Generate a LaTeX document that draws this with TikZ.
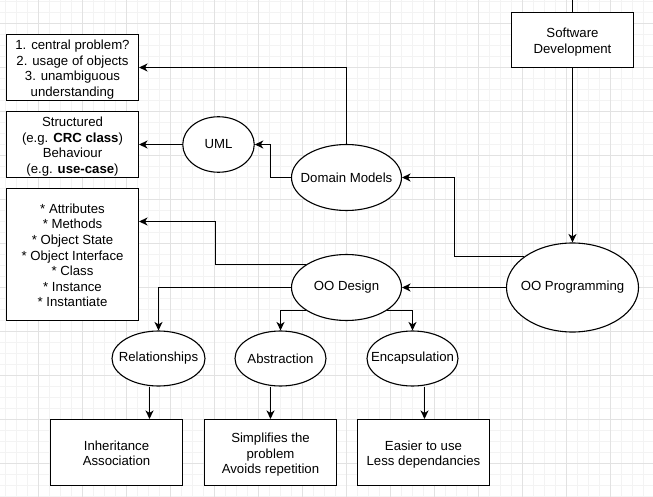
\documentclass[tikz,border=0pt]{standalone}
\usepackage{fontspec}
\setmainfont{Liberation Sans}
\usetikzlibrary{arrows.meta,shapes.geometric}
\newcommand{\zw}[1]{\makebox[0pt]{#1}}
% invisible struts: a tall first line and a fixed depth on the last line
\newcommand{\bt}{\vrule width 0pt height 14pt\relax}
\newcommand{\bb}{\vrule width 0pt depth 2.8pt\relax}
\definecolor{gridminor}{HTML}{F3F3F3}
\definecolor{gridmajor}{HTML}{E2E2E2}
\begin{document}
\begin{tikzpicture}[x=1pt,y=-1pt,
  every node/.style={font=\fontsize{13.2}{15.6}\selectfont, line width=1.1pt, inner sep=0pt,
    align=center, fill=white},
  box/.style={draw, rectangle, minimum width=132, minimum height=66},
  oval/.style={draw, ellipse},
  arr/.style={line width=1.1pt, -{Stealth[length=8.5pt,width=8pt,inset=2.5pt]}},
  link/.style={line width=1.1pt},
  minorline/.style={gridminor, line width=1pt},
  majorline/.style={gridmajor, line width=1pt}]
\useasboundingbox (0,0) rectangle (653,497);
\fill[white] (0,0) rectangle (653,497);

% background grid
\foreach \i in {0,...,59} {\draw[minorline] ({5.5+11*\i},0) -- ({5.5+11*\i},497);}
\foreach \j in {0,...,45} {\draw[minorline] (0,{1.5+11*\j}) -- (653,{1.5+11*\j});}
\foreach \i in {0,...,13} {\draw[majorline] ({38.5+44*\i},0) -- ({38.5+44*\i},497);}
\foreach \j in {0,...,10} {\draw[majorline] (0,{23.5+44*\j}) -- (653,{23.5+44*\j});}

% nodes
\node[box, minimum width=122, minimum height=55] (sd) at (572.5,40) {\bt Software\\Development\bb};
\node[oval, minimum width=132, minimum height=89] (oop) at (572.5,287.5) {\zw{OO Programming}};
\node[oval, minimum width=110, minimum height=66] (dm) at (346.5,177.5) {\zw{Domain Models}};
\node[oval, minimum width=110, minimum height=66] (ood) at (346.5,287.5) {\zw{OO Design}};
\node[oval, minimum width=71.5, minimum height=55.5] (uml) at (218.5,144.5) {\zw{UML}};

\node[box] (b1) at (72.5,67.5)
  {\bt 1. central problem?\\2. usage of objects\\3. unambiguous\\understanding\bb};
\node[box] (b2) at (72.5,144.5)
  {\bt Structured\\(e.g. \textbf{CRC class})\\Behaviour\\(e.g. \textbf{use-case})\bb};
\node[box, minimum height=132] (b3) at (72.5,254.5)
  {\bt * Attributes\\* Methods\\* Object State\\* Object Interface\\* Class\\* Instance\\* Instantiate\bb};

\node[oval, minimum width=93, minimum height=55] (rel) at (158.5,358.5) {\zw{Relationships}};
\node[oval, minimum width=91, minimum height=55] (abs) at (280.5,358.5) {\zw{Abstraction}};
\node[oval, minimum width=91, minimum height=55] (enc) at (412.5,358.5) {\zw{Encapsulation}};

\node[box] (b4) at (116.5,452.5) {\bt Inheritance\\Association\bb};
\node[box] (b5) at (270.5,452.5) {\bt Simplifies the\\problem\\Avoids repetition\bb};
\node[box] (b6) at (423.5,452.5) {\bt Easier to use\\Less dependancies\bb};

\coordinate (top) at (572.5,0);

% connectors
\draw[link] (sd.north) -- (top);
\draw[arr] (sd.south) -- (oop.north);
\draw[arr] (oop.west) -- (ood.east);
\draw[arr] (oop.147.3) -| (454.5,177.5) -- (dm.east);
\draw[arr] (dm.north) |- (b1.east);
\draw[arr] (dm.west) -| (270.5,144.5) -- (uml.east);
\draw[arr] (uml.west) -- (b2.east);
\draw[arr] (ood.150.4) -| (215.5,221.5) -- ([yshift=33]b3.east);
\draw[arr] (ood.west) -| (rel.north);
\draw[arr] (ood.209.6) -| (abs.north);
\draw[arr] (ood.330.4) -| (enc.north);
\draw[arr] ([xshift=-9]rel.south) -- ([xshift=33]b4.north);
\draw[arr] ([xshift=-10]abs.south) -- (b5.north);
\draw[arr] ([xshift=12]enc.south) -- ([xshift=1]b6.north);
\end{tikzpicture}
\end{document}
